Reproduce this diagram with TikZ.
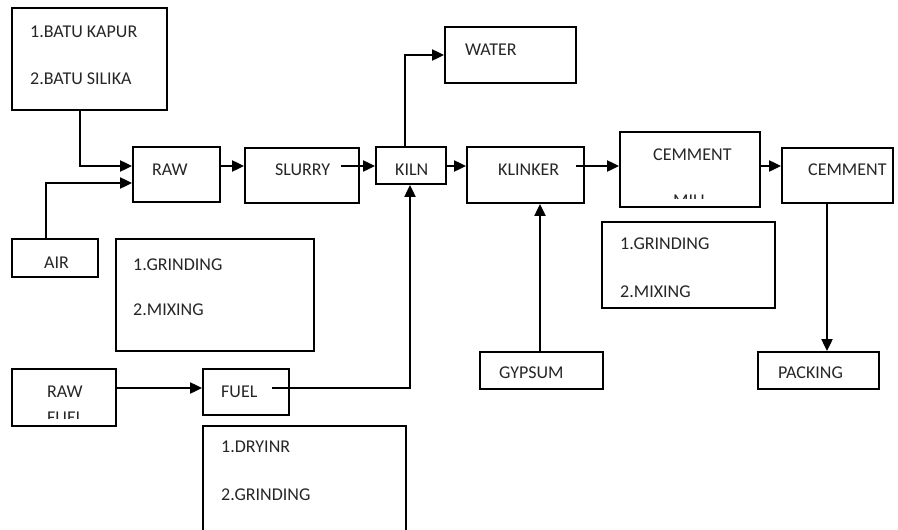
\documentclass[tikz,border=0pt]{standalone}
\usepackage{fontspec}
\setmainfont{Carlito}
\usetikzlibrary{arrows.meta}
\begin{document}
\begin{tikzpicture}[x=1pt,y=-1pt,
  box/.style={draw=black, line width=1.9pt, rectangle, inner sep=0pt},
  lbl/.style={anchor=base west, inner sep=0pt, text=black!85, font=\fontsize{18}{21}\selectfont},
  arr/.style={draw=black, line width=2.2pt, -{Triangle[length=12pt,width=11pt]}},
  ln/.style={draw=black, line width=2.2pt}]
\clip (0,0) rectangle (898,530);
\fill[white] (0,0) rectangle (898,530);
% boxes
\node[box, minimum width=155pt, minimum height=102pt] (src) at (89.5,59) {};
\node[box, minimum width=87pt, minimum height=55pt] (raw) at (176.5,174.5) {};
\node[box, minimum width=114pt, minimum height=55pt] (slurry) at (302,175.5) {};
\node[box, minimum width=70pt, minimum height=37pt] (kiln) at (411,165.5) {};
\node[box, minimum width=117pt, minimum height=56pt] (klinker) at (525.5,175) {};
\node[box, minimum width=131pt, minimum height=56pt] (water) at (510.5,55) {};
\node[box, minimum width=140pt, minimum height=75pt] (mill) at (690,169.5) {};
\node[box, minimum width=111pt, minimum height=55pt] (cem) at (837.5,175.5) {};
\node[box, minimum width=173pt, minimum height=86pt] (mixb) at (688.5,265) {};
\node[box, minimum width=86pt, minimum height=38pt] (air) at (55,258) {};
\node[box, minimum width=198pt, minimum height=112pt] (mixa) at (215,295) {};
\node[box, minimum width=104pt, minimum height=57pt] (rawfuel) at (64,397.5) {};
\node[box, minimum width=86pt, minimum height=46pt] (fuel) at (246,392) {};
\node[box, minimum width=203pt, minimum height=130pt] (dry) at (304.5,491) {};
\node[box, minimum width=123pt, minimum height=37pt] (gyp) at (541.5,370.5) {};
\node[box, minimum width=121pt, minimum height=37pt] (pack) at (818.5,370.5) {};
% labels
\node[lbl] (t1) at (30,37.5) {1.BATU KAPUR};
\node[lbl] (t2) at (30,84.5) {2.BATU SILIKA};
\node[lbl] (t3) at (152,175.5) {RAW};
\node[lbl] (t4) at (275,175.5) {SLURRY};
\node[lbl] (t5) at (395,175.5) {KILN};
\node[lbl] (t6) at (498,175.5) {KLINKER};
\node[lbl] (t7) at (465,55.5) {WATER};
\node[lbl] (t8) at (653,160) {CEMMENT};
\begin{scope}
  \clip (660,191) rectangle (720,198);
  \node[lbl] (t9) at (673,206) {MILL};
\end{scope}
\node[lbl] (t10) at (808,175.5) {CEMMENT};
\node[lbl] (t11) at (620,249.5) {1.GRINDING};
\node[lbl] (t12) at (620,297.5) {2.MIXING};
\node[lbl] (t13) at (44,268.5) {AIR};
\node[lbl] (t14) at (133,270.5) {1.GRINDING};
\node[lbl] (t15) at (133,315.5) {2.MIXING};
\node[lbl] (t16) at (47,397.5) {RAW};
\begin{scope}
  \clip (40,408) rectangle (100,418);
  \node[lbl] (t17) at (47,423) {FUEL};
\end{scope}
\node[lbl] (t18) at (221,397.5) {FUEL};
\node[lbl] (t19) at (221,452.5) {1.DRYINR};
\node[lbl] (t20) at (221,500.5) {2.GRINDING};
\node[lbl] (t21) at (499,378.5) {GYPSUM};
\node[lbl] (t22) at (778,378.5) {PACKING};
% connectors
\coordinate (s1) at (341,166);
\coordinate (k1) at (576,166);
\coordinate (f1) at (272,388);
\draw[arr] (src.south -| 80,0) |- (raw.west |- 0,166);
\draw[arr] (air.north -| 46,0) |- (raw.west |- 0,183);
\draw[arr] (raw.east |- 0,166) -- (slurry.west |- 0,166);
\draw[arr] (s1) -- (kiln.west |- 0,166);
\draw[arr] (kiln.north -| 405,0) |- (water.west |- 0,55);
\draw[arr] (kiln.east |- 0,166) -- (klinker.west |- 0,166);
\draw[arr] (k1) -- (mill.west |- 0,166);
\draw[arr] (mill.east |- 0,166) -- (cem.west |- 0,166);
\draw[arr] (cem.south -| 827,0) -- (pack.north -| 827,0);
\draw[arr] (gyp.north -| 540,0) -- (klinker.south -| 540,0);
\draw[arr] (rawfuel.east |- 0,388) -- (fuel.west |- 0,388);
\draw[arr] (f1) -| (kiln.south -| 410,0);
\end{tikzpicture}
\end{document}
